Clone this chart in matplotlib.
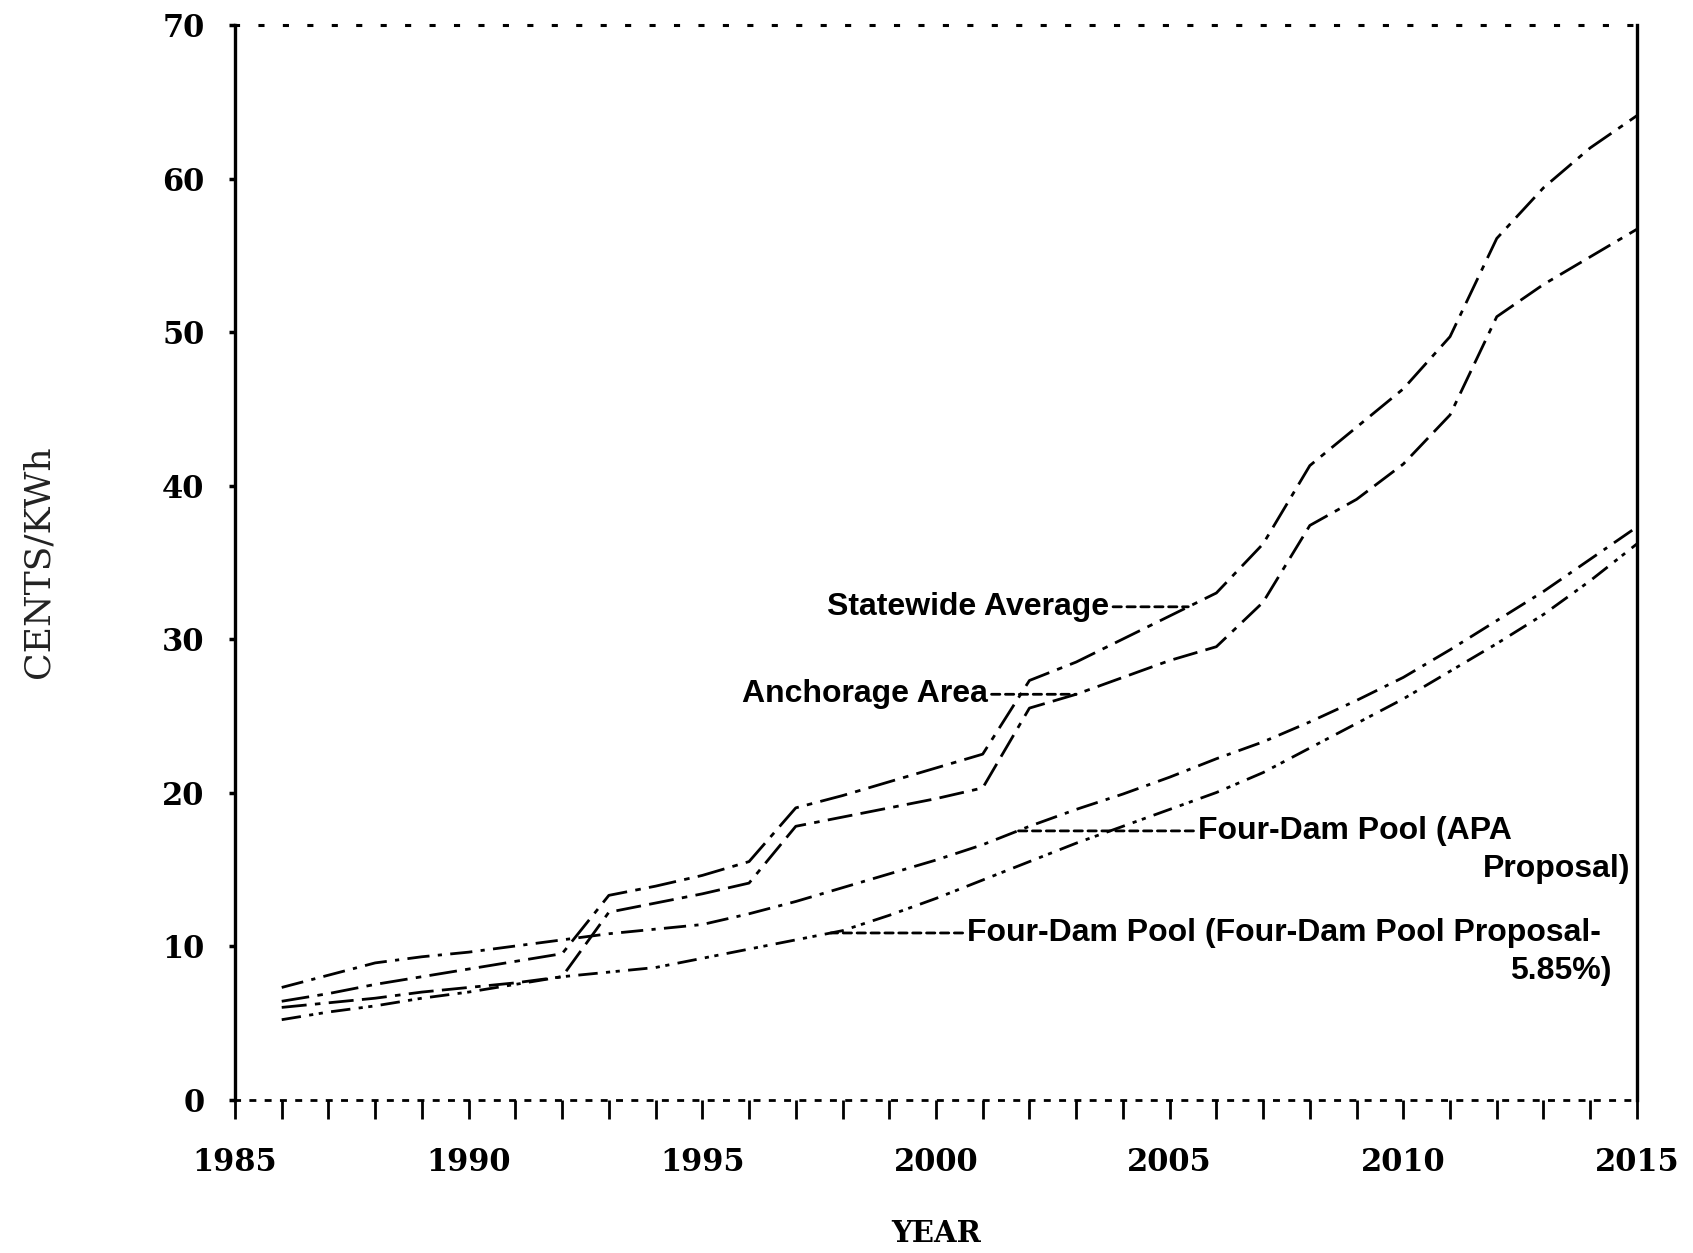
"""
projected power cost, cents per kwh, 1986-2015
"""

import numpy as np
import matplotlib.pyplot as plt

years = list(range(1986, 2016))

statewide = [6.4, 6.9, 7.5, 8.0, 8.5, 9.0, 9.5, 13.3, 13.9, 14.6,
             15.5, 19.0, 19.8, 20.7, 21.6, 22.5, 27.3, 28.5, 30.0, 31.5,
             33.0, 36.2, 41.3, 43.8, 46.3, 49.7, 56.1, 59.4, 62.0, 64.1]

anchorage = [6.0, 6.3, 6.6, 7.0, 7.3, 7.6, 8.0, 12.2, 12.8, 13.4,
             14.1, 17.8, 18.4, 19.0, 19.6, 20.3, 25.5, 26.4, 27.5, 28.6,
             29.5, 32.4, 37.4, 39.1, 41.4, 44.6, 51.0, 53.1, 54.9, 56.7]

apa = [7.3, 8.1, 8.9, 9.3, 9.6, 10.0, 10.4, 10.8, 11.1, 11.4,
       12.1, 12.9, 13.8, 14.7, 15.6, 16.6, 17.8, 18.9, 19.9, 21.0,
       22.2, 23.3, 24.6, 26.0, 27.5, 29.3, 31.2, 33.1, 35.2, 37.3]

fourdam = [5.2, 5.7, 6.1, 6.6, 7.0, 7.5, 8.0, 8.3, 8.6, 9.2,
           9.8, 10.4, 11.0, 12.0, 13.1, 14.3, 15.5, 16.7, 17.8, 18.9,
           20.0, 21.3, 22.9, 24.5, 26.1, 27.9, 29.7, 31.6, 33.8, 36.2]

yticks = [0, 10, 20, 30, 40, 50, 60, 70]
xticks = [1985, 1990, 1995, 2000, 2005, 2010, 2015]

serif = 'DejaVu Serif'
sans = 'Liberation Sans'

fig = plt.figure(figsize=(16.93, 12.53), dpi=100)
ax = fig.add_axes([0.1388, 0.1225, 0.8281, 0.8575])

ax.plot(years, statewide, color='black', lw=2.0, ls=(0, (10, 3, 2, 3)))
ax.plot(years, anchorage, color='black', lw=2.0, ls=(0, (9, 3, 2, 3, 9, 3)))
ax.plot(years, apa, color='black', lw=2.0, ls=(0, (8, 3, 1.5, 3)))
ax.plot(years, fourdam, color='black', lw=2.0, ls=(0, (7, 3, 1.5, 2, 1.5, 3)))

ax.set_xlim(1985, 2015)
ax.set_ylim(0, 70)
ax.set_xticks(xticks)
ax.set_xticks(range(1985, 2016), minor=True)
ax.set_yticks(yticks)
ax.set_xticklabels([str(x) for x in xticks], fontfamily=serif,
                   fontweight='bold', fontsize=22)
ax.set_yticklabels([str(y) for y in yticks], fontfamily=serif,
                   fontweight='bold', fontsize=22)
ax.tick_params(axis='x', which='both', direction='out', length=14,
               width=2, pad=20)
ax.tick_params(axis='y', direction='out', length=4, width=2.5, pad=18)

ax.spines['left'].set_linewidth(2.4)
ax.spines['right'].set_linewidth(2.4)
ax.spines['top'].set_linewidth(2.2)
ax.spines['top'].set_linestyle((0, (1, 7)))
ax.spines['bottom'].set_linewidth(2.0)
ax.spines['bottom'].set_linestyle((0, (1.5, 4)))

ax.set_xlabel('YEAR', fontfamily=serif, fontweight='bold', fontsize=21,
              labelpad=30)
fig.text(0.0225, 0.5515, 'CENTS/KWh', rotation=90, ha='center', va='center',
         fontfamily=serif, fontsize=26, color='#222222')


# horizontal leader from the text to where the curve reaches its height
def label(text, series, tx, ty, side):
    year = np.interp(ty, series, years)
    ax.annotate(text, xy=(year, ty), xytext=(tx, ty),
                ha='right' if side == 'r' else 'left', va='center',
                fontfamily=sans, fontweight='bold', fontsize=23,
                arrowprops=dict(arrowstyle='-', lw=2, ls=(0, (3, 2)),
                                relpos=(1, 0.5) if side == 'r' else (0, 0.5),
                                shrinkA=1, shrinkB=0))


label('Statewide Average', statewide, 2003.7, 32.1, 'r')
label('Anchorage Area', anchorage, 2001.1, 26.4, 'r')
label('Four-Dam Pool (APA', apa, 2005.6, 17.5, 'l')
ax.text(2014.85, 15.0, 'Proposal)', ha='right', va='center',
        fontfamily=sans, fontweight='bold', fontsize=23)
label('Four-Dam Pool (Four-Dam Pool Proposal-', fourdam, 2000.66, 10.85, 'l')
ax.text(2014.45, 8.4, '5.85%)', ha='right', va='center',
        fontfamily=sans, fontweight='bold', fontsize=23)

fig.savefig('out.png', dpi=100)
